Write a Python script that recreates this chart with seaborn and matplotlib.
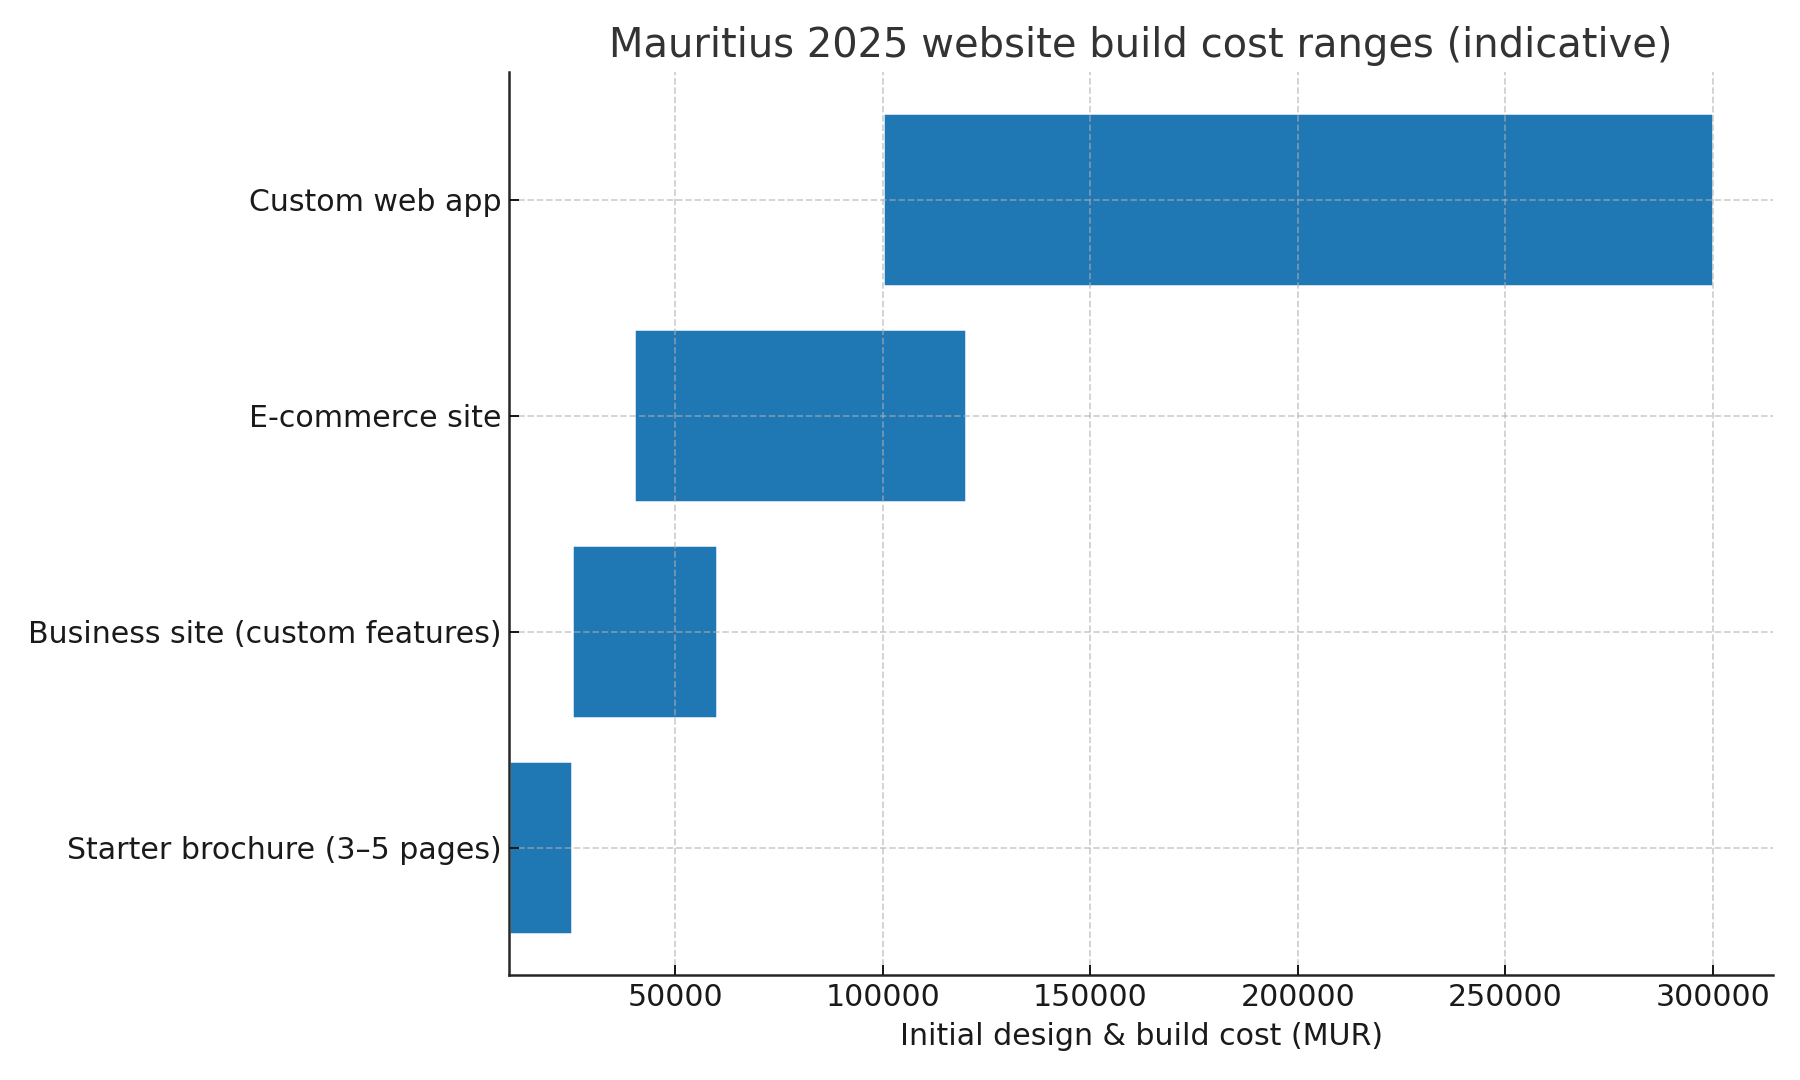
import matplotlib
matplotlib.use("Agg")
import matplotlib.pyplot as plt
import seaborn as sns

# cost ranges in MUR
categories = ["Starter brochure (3–5 pages)", "Business site (custom features)",
              "E-commerce site", "Custom web app"]
low_cost = [10000, 25000, 40000, 100000]
high_cost = [25000, 60000, 120000, 300000]
widths = [h - l for l, h in zip(low_cost, high_cost)]

sns.set_theme(style="white")
plt.rcParams["font.family"] = ["DejaVu Sans"]
plt.rcParams["xtick.direction"] = "in"
plt.rcParams["ytick.direction"] = "in"
plt.rcParams["xtick.bottom"] = True
plt.rcParams["ytick.left"] = True

fig, ax = plt.subplots(figsize=(10, 6), dpi=180)
ax.barh(categories, widths, left=low_cost, color="#1f77b4", height=0.8)

ax.grid(True, linestyle="--", linewidth=0.7, color="#b0b0b0", alpha=0.6)
ax.set_axisbelow(False)
sns.despine(ax=ax)
for s in ["left", "bottom"]:
    ax.spines[s].set_color("#262626")
    ax.spines[s].set_linewidth(1.0)
ax.tick_params(axis="both", labelsize=12, colors="#1a1a1a", length=4, width=0.8, pad=3)

ax.set_title("Mauritius 2025 website build cost ranges (indicative)", fontsize=16, color="#333333")
ax.set_xlabel("Initial design & build cost (MUR)", fontsize=12, color="#1a1a1a")

fig.subplots_adjust(left=0.283, right=0.985, top=0.933, bottom=0.097)
fig.savefig("out.png", dpi=180)
